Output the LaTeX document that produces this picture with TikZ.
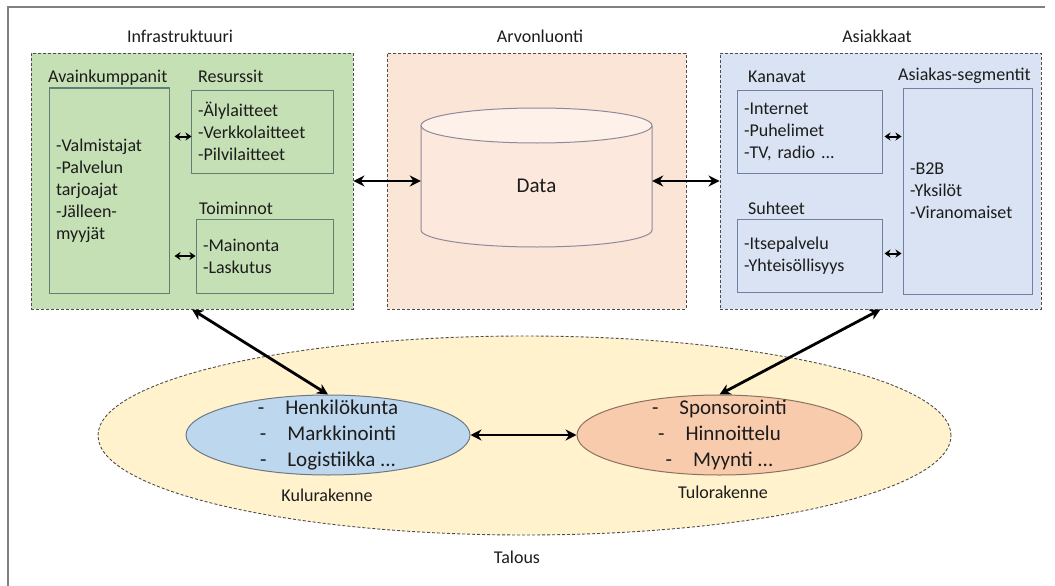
\documentclass[tikz,border=0pt]{standalone}
\usepackage{fontspec}
\setmainfont{Carlito}
\usetikzlibrary{arrows.meta,shapes.geometric,calc}

\definecolor{txt}{HTML}{1C1C1C}
\definecolor{framegray}{HTML}{808080}
\definecolor{dashgray}{HTML}{4D4D4D}
\definecolor{greenfill}{HTML}{C5E0B4}
\definecolor{greenline}{HTML}{5F7F78}
\definecolor{peachfill}{HTML}{FBE5D6}
\definecolor{cylfill}{HTML}{FCE8DC}
\definecolor{cyltop}{HTML}{FDF1EA}
\definecolor{cylline}{HTML}{8E8A99}
\definecolor{bluefill}{HTML}{DAE3F3}
\definecolor{blueline}{HTML}{7080A3}
\definecolor{yellowfill}{HTML}{FFF2CC}
\definecolor{costfill}{HTML}{BDD7EE}
\definecolor{costline}{HTML}{6C7885}
\definecolor{revfill}{HTML}{F8CBAD}
\definecolor{revline}{HTML}{8A7262}

\tikzset{
  every node/.style={text=txt, font=\fontsize{18}{22}\selectfont},
  group/.style={draw=dashgray, dash pattern=on 3pt off 2pt, line width=0.9pt,
    inner sep=0pt, minimum width=#1, minimum height=256},
  listbox/.style args={#1/#2}{draw, line width=1pt, inner xsep=7pt, inner ysep=0pt,
    text width=#1-14pt, minimum height=#2, align=left},
  boxlabel/.style={anchor=base west, inner sep=0pt},
  title/.style={anchor=base, inner sep=0pt},
  oval/.style={ellipse, line width=1pt, inner sep=0pt},
  ovaltext/.style={align=center, inner sep=0pt, font=\fontsize{21}{26}\selectfont},
  bigarr/.style={{Stealth[length=11pt,width=11pt]}-{Stealth[length=11pt,width=11pt]}, line width=2.8pt, black},
  smallarr/.style={{Stealth[length=6pt,width=8pt]}-{Stealth[length=6pt,width=8pt]}, line width=2pt, black},
}

\begin{document}
\begin{tikzpicture}[x=1pt, y=-1pt]
\useasboundingbox (0,0) rectangle (1055,586);

% page frame (left and top edges)
\draw[framegray, line width=1.2pt] (8,586) -- (8,7) -- (1045,7);

% economy oval behind everything
\node[oval, fill=yellowfill, draw=dashgray, dash pattern=on 3pt off 2pt, line width=0.9pt,
      minimum width=853, minimum height=199] (talous) at (524.5,435.5) {};

% three block groups
\node[group=322, fill=greenfill] (infra) at (192,181) {};
\node[group=299, fill=peachfill] (arvo)  at (536.5,181) {};
\node[group=321, fill=bluefill]  (asiak) at (880.5,181) {};

\node[title] at (180,43) {Infrastruktuuri};
\node[title] at (540,43) {Arvonluonti};
\node[title] at (877,43) {Asiakkaat};

% infrastructure contents
\node[listbox=120pt/205pt, draw=greenline] (avain) at (109,190.5)
  {-Valmistajat\\-Palvelun\\tarjoajat\\-Jälleen-\\myyjät};
\node[listbox=142pt/83pt, draw=greenline] (res) at (262,131.5)
  {-Älylaitteet\\-Verkkolaitteet\\-Pilvilaitteet};
\node[listbox=137pt/74pt, draw=greenline] (toim) at (264.5,256)
  {-Mainonta\\-Laskutus};
\node[boxlabel] at (48,83) {Avainkumppanit};
\node[boxlabel] at (198,83) {Resurssit};
\node[boxlabel] at (199,214) {Toiminnot};

\draw[smallarr] ($(avain.east |- res.west)+(5,5)$) -- ($(res.west)+(1,5)$);
\draw[smallarr] ($(avain.east |- toim.west)+(5,0)$) -- (toim.west);

% customer contents
\node[listbox=145pt/83pt, draw=blueline] (kan) at (809.5,131.5)
  {-Internet\\-Puhelimet\\-TV, radio ...};
\node[listbox=129pt/206pt, draw=blueline] (seg) at (967.5,191)
  {-B2B\\-Yksilöt\\-Viranomaiset};
\node[listbox=145pt/73pt, draw=blueline] (suh) at (809.5,255.5)
  {-Itsepalvelu\\-Yhteisöllisyys};
\node[boxlabel] at (748,83) {Kanavat};
\node[boxlabel] at (898,81) {Asiakas-segmentit};
\node[boxlabel] at (748,214) {Suhteet};

\draw[smallarr] ($(kan.east)+(2,5)$) -- ($(seg.west |- kan.east)+(-1,5)$);
\draw[smallarr] ($(suh.east)+(2,-2)$) -- ($(seg.west |- suh.east)+(-1,-2)$);

% data store cylinder
\draw[cylline, line width=1pt, fill=cylfill]
  (421,125.5) -- (421,230) arc[start angle=180, end angle=0, x radius=115.5, y radius=17]
  -- (652,125.5);
\draw[cylline, line width=1pt, fill=cyltop]
  (536.5,125.5) ellipse[x radius=115.5, y radius=17.5];
\node[inner sep=0pt, minimum width=231, minimum height=120] (data) at (536.5,181) {};
\node[font=\fontsize{21}{26}\selectfont] at ([yshift=-5pt]data.center) {Data};

\draw[bigarr] (infra.east) -- (data.west);
\draw[bigarr] (data.east) -- (asiak.west);

% cost and revenue structures
\node[oval, fill=costfill, draw=costline, minimum width=284, minimum height=80] (cost) at (328,435) {};
\node[oval, fill=revfill, draw=revline, minimum width=285, minimum height=80] (rev) at (719.5,435) {};
\node[ovaltext] at (cost.center)
  {-\hspace{21pt}Henkilökunta\\-\hspace{21pt}Markkinointi\\-\hspace{21pt}Logistiikka ...};
\node[ovaltext] at (rev.center)
  {-\hspace{21pt}Sponsorointi\\-\hspace{21pt}Hinnoittelu\\-\hspace{21pt}Myynti ...};
\node[title] at (327,501) {Kulurakenne};
\node[title] at (723,498) {Tulorakenne};
\node[title] at (517,563) {Talous};

\draw[bigarr] (infra.south) -- (cost.north);
\draw[bigarr] (asiak.south) -- (rev.north);
\draw[bigarr] (cost.east) -- (rev.west);
\end{tikzpicture}
\end{document}
